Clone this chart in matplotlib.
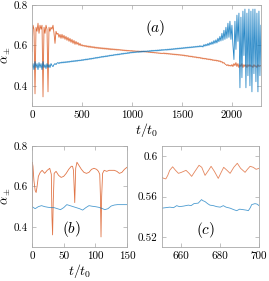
import numpy as np
import matplotlib
matplotlib.use('Agg')
import matplotlib.pyplot as plt
from matplotlib.ticker import FuncFormatter

plt.rcParams['font.family'] = 'cmr10'
plt.rcParams['mathtext.fontset'] = 'cm'
plt.rcParams['axes.formatter.use_mathtext'] = True
plt.rcParams['axes.unicode_minus'] = False

ORANGE = '#D95319'
BLUE = '#0072BD'
FRAME = '#a8a8a8'

# ---- panel (a): sampled every 10 t0 -------------------------------------
DT_A = 10
alpha_p_a = (
    # 0 - 250
    [0.57, 0.70, 0.68, 0.36, 0.69, 0.67, 0.71, 0.66, 0.70, 0.68,
     0.70, 0.345, 0.69, 0.66, 0.70, 0.68, 0.37, 0.69, 0.67, 0.69,
     0.68, 0.70, 0.66, 0.61, 0.67, 0.655]
    # 260 - 500
    + [0.66, 0.64, 0.655, 0.635, 0.655, 0.635, 0.65, 0.63, 0.645, 0.625,
       0.64, 0.62, 0.635, 0.615, 0.63, 0.61, 0.625, 0.605, 0.62, 0.605,
       0.615, 0.60, 0.61, 0.598, 0.604]
    # 510 - 900
    + [0.596, 0.601, 0.594, 0.600, 0.592, 0.598, 0.590, 0.597, 0.589, 0.595,
       0.588, 0.594, 0.586, 0.592, 0.585, 0.591, 0.584, 0.590, 0.583, 0.589,
       0.582, 0.588, 0.581, 0.587, 0.580, 0.586, 0.579, 0.585, 0.578, 0.584,
       0.578, 0.583, 0.577, 0.582, 0.576, 0.581, 0.576, 0.580, 0.575, 0.579]
    # 910 - 1300
    + [0.574, 0.578, 0.573, 0.577, 0.572, 0.576, 0.572, 0.575, 0.571, 0.575,
       0.570, 0.574, 0.570, 0.573, 0.569, 0.573, 0.569, 0.572, 0.568, 0.572,
       0.568, 0.571, 0.567, 0.570, 0.566, 0.569, 0.565, 0.568, 0.564, 0.567,
       0.563, 0.566, 0.562, 0.565, 0.561, 0.564, 0.560, 0.563, 0.559, 0.562]
    # 1310 - 1900
    + [0.559, 0.563, 0.558, 0.562, 0.557, 0.561, 0.556, 0.560, 0.555, 0.559,
       0.554, 0.558, 0.553, 0.557, 0.552, 0.556, 0.551, 0.555, 0.550, 0.554,
       0.549, 0.553, 0.547, 0.551, 0.546, 0.550, 0.544, 0.548, 0.543, 0.547,
       0.541, 0.545, 0.540, 0.544, 0.538, 0.542, 0.537, 0.541, 0.535, 0.539,
       0.533, 0.537, 0.532, 0.536, 0.530, 0.534, 0.529, 0.533, 0.527, 0.531,
       0.525, 0.529, 0.524, 0.528, 0.522, 0.526, 0.520, 0.524, 0.517, 0.520]
    # 1910 - 2290
    + [0.512, 0.515, 0.508, 0.505, 0.500, 0.505, 0.498, 0.502, 0.497, 0.505,
       0.495, 0.510, 0.500, 0.515, 0.495, 0.510, 0.490, 0.505, 0.495, 0.510,
       0.490, 0.505, 0.495, 0.505, 0.490, 0.505, 0.495, 0.505, 0.495, 0.500,
       0.490, 0.505, 0.495, 0.500, 0.490, 0.505, 0.495, 0.500, 0.498]
)

alpha_m_a = (
    # 0 - 250
    [0.49, 0.51, 0.48, 0.52, 0.49, 0.51, 0.48, 0.515, 0.49, 0.51,
     0.48, 0.52, 0.49, 0.505, 0.485, 0.51, 0.49, 0.505, 0.49, 0.51,
     0.50, 0.495, 0.505, 0.51, 0.505, 0.512]
    # 260 - 1690
    + [0.515, 0.510, 0.516, 0.512, 0.518, 0.513, 0.519, 0.514, 0.520, 0.515,
       0.521, 0.516, 0.522, 0.518, 0.524, 0.519, 0.525, 0.520, 0.526, 0.521,
       0.527, 0.523, 0.528, 0.524, 0.530, 0.525, 0.531, 0.527, 0.533, 0.528,
       0.534, 0.530, 0.536, 0.531, 0.537, 0.533, 0.539, 0.535, 0.541, 0.536,
       0.542, 0.538, 0.544, 0.540, 0.546, 0.541, 0.547, 0.543, 0.549, 0.544,
       0.550, 0.546, 0.552, 0.548, 0.553, 0.549, 0.555, 0.551, 0.556, 0.552,
       0.558, 0.553, 0.559, 0.555, 0.561, 0.556, 0.562, 0.558, 0.563, 0.559,
       0.565, 0.560, 0.566, 0.562, 0.567, 0.563, 0.568, 0.564, 0.569, 0.565,
       0.570, 0.565, 0.571, 0.566, 0.572, 0.567, 0.573, 0.568, 0.573, 0.569,
       0.574, 0.569, 0.575, 0.570, 0.576, 0.571, 0.576, 0.572, 0.577, 0.572,
       0.578, 0.573, 0.579, 0.574, 0.580, 0.575, 0.580, 0.576, 0.581, 0.576,
       0.582, 0.577, 0.583, 0.578, 0.584, 0.579, 0.585, 0.580, 0.586, 0.581,
       0.587, 0.582, 0.588, 0.583, 0.589, 0.584, 0.590, 0.585, 0.591, 0.586,
       0.592, 0.587, 0.593, 0.588, 0.594, 0.589, 0.595, 0.590, 0.596, 0.591,
       0.597, 0.592, 0.599, 0.593]
    # 1700 - 2290
    + [0.598, 0.592, 0.604, 0.596, 0.606, 0.598, 0.610, 0.600, 0.614, 0.604,
       0.618, 0.606, 0.624, 0.610, 0.628, 0.612, 0.636, 0.618, 0.645, 0.622,
       0.660, 0.625, 0.675, 0.630, 0.690, 0.635, 0.710, 0.640, 0.720, 0.630,
       0.700, 0.600, 0.530, 0.720, 0.580, 0.750, 0.620, 0.760, 0.390, 0.740,
       0.440, 0.770, 0.550, 0.780, 0.390, 0.760, 0.450, 0.780, 0.400, 0.770,
       0.370, 0.780, 0.460, 0.780, 0.420, 0.760, 0.370, 0.770, 0.450, 0.700]
)

# ---- panel (b) -----------------------------------------------------------
t_p_b = [0, 0.5, 1.5, 3, 5, 6.5, 8, 10, 13, 16, 20, 24, 28, 30.5, 31.5, 32.5,
         33.5, 35, 38, 42, 46, 50, 54, 58, 62, 64, 65.5, 66.5, 67.5, 69, 71,
         74, 78, 82, 86, 90, 94, 98, 102, 105, 107, 108, 109, 110, 111.5, 114,
         118, 122, 126, 130, 134, 138, 142, 146, 150]
alpha_p_b = [0.50, 0.72, 0.70, 0.63, 0.58, 0.57, 0.60, 0.65, 0.67, 0.68,
             0.665, 0.68, 0.69, 0.66, 0.45, 0.36, 0.52, 0.665, 0.675, 0.655,
             0.645, 0.65, 0.665, 0.685, 0.70, 0.70, 0.68, 0.60, 0.52, 0.69,
             0.72, 0.705, 0.685, 0.67, 0.665, 0.67, 0.685, 0.69, 0.685, 0.675,
             0.66, 0.56, 0.35, 0.55, 0.665, 0.68, 0.675, 0.68, 0.68, 0.68,
             0.675, 0.665, 0.67, 0.685, 0.695]
t_m_b = [0, 5, 10, 15, 20, 25, 30, 35, 40, 45, 50, 55, 60, 65, 70, 75, 80,
         85, 90, 95, 100, 105, 110, 115, 120, 125, 130, 135, 140, 145, 150]
alpha_m_b = [0.50, 0.49, 0.50, 0.505, 0.50, 0.497, 0.495, 0.495, 0.49, 0.485,
             0.495, 0.51, 0.505, 0.50, 0.495, 0.49, 0.483, 0.495, 0.505, 0.502,
             0.50, 0.497, 0.492, 0.485, 0.49, 0.503, 0.508, 0.51, 0.51, 0.51,
             0.51]

# ---- panel (c) -----------------------------------------------------------
t_p_c = [650, 651, 652, 653, 654, 655.5, 657, 658.5, 660, 662.4, 664, 665.3,
         667, 669.1, 670.5, 672.2, 674, 675.3, 677, 679, 680.5, 681.8, 683.5,
         685.1, 687, 688.8, 690.5, 692.8, 694, 695.4, 697, 698.5, 700]
alpha_p_c = [0.579, 0.578, 0.5775, 0.581, 0.586, 0.5895, 0.586, 0.583, 0.584,
             0.586, 0.583, 0.580, 0.585, 0.591, 0.589, 0.581, 0.586, 0.590,
             0.585, 0.578, 0.584, 0.589, 0.586, 0.583, 0.589, 0.593, 0.588,
             0.584, 0.587, 0.590, 0.589, 0.587, 0.588]
t_m_c = [650, 652, 654, 656, 657.6, 659, 661, 663.6, 665, 666.5, 668.7, 670.4,
         671, 672.2, 673.5, 674.7, 676.5, 678.2, 680, 681.6, 683, 685.1, 687,
         688.5, 690, 691.9, 693.5, 694.5, 695.5, 696.2, 697.9, 699, 700]
alpha_m_c = [0.5485, 0.549, 0.5495, 0.549, 0.551, 0.550, 0.5505, 0.5515,
             0.551, 0.553, 0.5535, 0.557, 0.556, 0.555, 0.553, 0.5515, 0.551,
             0.550, 0.5495, 0.551, 0.5495, 0.5485, 0.547, 0.546, 0.5475,
             0.547, 0.5465, 0.546, 0.549, 0.552, 0.553, 0.5525, 0.551]

t_a = DT_A * np.arange(len(alpha_p_a))
t_am = DT_A * np.arange(len(alpha_m_a))


def style(ax):
    for s in ax.spines.values():
        s.set_color(FRAME)
        s.set_linewidth(0.6)
    ax.tick_params(direction='in', top=True, right=True, length=3,
                   width=0.5, color=FRAME, labelsize=8, pad=3)
    ax.yaxis.set_major_formatter(FuncFormatter(lambda v, p: '%g' % round(v, 4)))
    ax.xaxis.set_major_formatter(FuncFormatter(lambda v, p: '%g' % round(v, 4)))


fig = plt.figure(figsize=(2.69, 2.81), dpi=100)
ax_a = fig.add_axes([0.119, 0.623, 0.851, 0.359])
ax_b = fig.add_axes([0.119, 0.121, 0.353, 0.359])
ax_c = fig.add_axes([0.602, 0.121, 0.361, 0.359])

ax_a.plot(t_a, alpha_p_a, color=ORANGE, lw=0.6, alpha=0.85)
ax_a.plot(t_am, alpha_m_a, color=BLUE, lw=0.6, alpha=0.85)
ax_a.set_xlim(0, 2290)
ax_a.set_ylim(0.3, 0.8)
ax_a.set_xticks([0, 500, 1000, 1500, 2000])
ax_a.set_yticks([0.4, 0.6, 0.8])
ax_a.set_xlabel(r'$t/t_0$', fontsize=10, labelpad=1)
ax_a.set_ylabel(r'$\alpha_\pm$', fontsize=9)
ax_a.yaxis.set_label_coords(-0.082, 0.5)
ax_a.text(0.54, 0.77, r'$(a)$', transform=ax_a.transAxes, fontsize=11,
          ha='center', va='center')
style(ax_a)

ax_b.plot(t_p_b, alpha_p_b, color=ORANGE, lw=0.6, alpha=0.8)
ax_b.plot(t_m_b, alpha_m_b, color=BLUE, lw=0.6, alpha=0.7)
ax_b.set_xlim(0, 150)
ax_b.set_ylim(0.3, 0.8)
ax_b.set_xticks([0, 50, 100, 150])
ax_b.set_yticks([0.4, 0.6, 0.8])
ax_b.set_xlabel(r'$t/t_0$', fontsize=10, labelpad=1)
ax_b.set_ylabel(r'$\alpha_\pm$', fontsize=9)
ax_b.yaxis.set_label_coords(-0.2, 0.5)
ax_b.text(0.42, 0.18, r'$(b)$', transform=ax_b.transAxes, fontsize=11,
          ha='center', va='center')
style(ax_b)

ax_c.plot(t_p_c, alpha_p_c, color=ORANGE, lw=0.6, alpha=0.7)
ax_c.plot(t_m_c, alpha_m_c, color=BLUE, lw=0.6, alpha=0.7)
ax_c.set_xlim(650, 700)
ax_c.set_ylim(0.51, 0.61)
ax_c.set_xticks([660, 680, 700])
ax_c.set_yticks([0.52, 0.56, 0.6])
ax_c.text(0.45, 0.17, r'$(c)$', transform=ax_c.transAxes, fontsize=11,
          ha='center', va='center')
style(ax_c)

fig.savefig('out.png', dpi=100)
